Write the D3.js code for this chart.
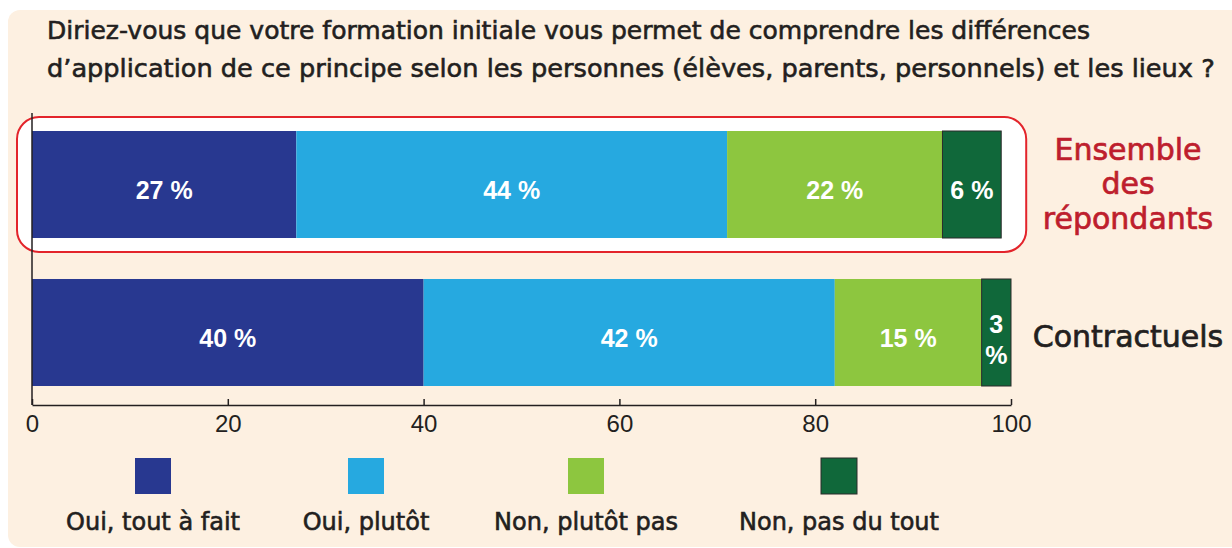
<!DOCTYPE html>
<html>
<head>
<meta charset="utf-8">
<script src="https://cdn.jsdelivr.net/npm/d3@7"></script>
<style>
  body { margin: 0; background: #ffffff; }
  svg { display: block; }
</style>
</head>
<body>
<script>
const WIDTH = 1232;
const HEIGHT = 548;

// data
var groups = ['Ensemble des répondants', 'Contractuels'];
var groupLines = [['Ensemble', 'des', 'répondants'], ['Contractuels']];
var answers = ['Oui, tout à fait', 'Oui, plutôt', 'Non, plutôt pas', 'Non, pas du tout'];
var ensembleValues = [27, 44, 22, 6];
var contractuelsValues = [40, 42, 15, 3];
var tickValues = [0, 20, 40, 60, 80, 100];
var titleLines = [
  'Diriez-vous que votre formation initiale vous permet de comprendre les différences',
  'd\u2019application de ce principe selon les personnes (élèves, parents, personnels) et les lieux ?'
];

var colors = ['#283890', '#26a9e0', '#8dc63f', '#10683a'];
var textColor = '#231f20';

var seriesByGroup = [ensembleValues, contractuelsValues];

var svg = d3.select('body').append('svg')
  .attr('width', WIDTH)
  .attr('height', HEIGHT);

// beige panel
svg.append('rect')
  .attr('x', 8).attr('y', 10)
  .attr('width', WIDTH + 20).attr('height', HEIGHT - 11)
  .attr('rx', 12)
  .attr('fill', '#fdf0e1');

// fit a text element to a target width by changing its font size
var fitWidth = function(sel, target) {
  var size = parseFloat(sel.attr('font-size'));
  var w = sel.node().getComputedTextLength();
  sel.attr('font-size', (size * target / w).toFixed(2));
};

// title
var titleWidths = [1043, 1168];
titleLines.forEach(function(t, i) {
  var txt = svg.append('text')
    .attr('x', 47)
    .attr('y', 39 + i * 38)
    .attr('font-family', 'DejaVu Sans')
    .attr('font-size', 21)
    .attr('fill', textColor)
    .attr('stroke', textColor)
    .attr('stroke-width', 0.6)
    .text(t);
  fitWidth(txt, titleWidths[i]);
});

var x = d3.scaleLinear().domain([0, 100]).range([32, 1011]);
var y = d3.scaleBand().domain(groups).range([131, 386]).paddingInner(0.277).paddingOuter(0);

// highlight frame around first group
svg.append('rect')
  .attr('x', x(0) - 15)
  .attr('y', y(groups[0]) - 14)
  .attr('width', x(99) - x(0) + 40)
  .attr('height', y.bandwidth() + 28)
  .attr('rx', 22)
  .attr('fill', '#ffffff')
  .attr('stroke', '#e3242b')
  .attr('stroke-width', 2);

// stacked segments
var rows = groups.map(function(g, gi) {
  var acc = 0;
  return seriesByGroup[gi].map(function(v, i) {
    var seg = {group: g, index: i, value: v, x0: acc, x1: acc + v};
    acc += v;
    return seg;
  });
});
var segments = [].concat.apply([], rows);

svg.selectAll('rect.seg')
  .data(segments)
  .enter()
  .append('rect')
  .attr('class', 'seg')
  .attr('x', function(d) { return x(d.x0); })
  .attr('y', function(d) { return y(d.group); })
  .attr('width', function(d) { return x(d.x1) - x(d.x0); })
  .attr('height', y.bandwidth())
  .attr('fill', function(d) { return colors[d.index]; })
  .attr('stroke', function(d) { return d.index === 3 ? '#2b2b2b' : 'none'; })
  .attr('stroke-width', 1);

// value labels
var labels = svg.selectAll('text.val')
  .data(segments)
  .enter()
  .append('text')
  .attr('class', 'val')
  .attr('text-anchor', 'middle')
  .attr('font-family', 'Liberation Sans')
  .attr('font-weight', 'bold')
  .attr('font-size', 25)
  .attr('fill', '#ffffff');

labels.each(function(d) {
  var t = d3.select(this);
  var cx = (x(d.x0) + x(d.x1)) / 2;
  var cy = y(d.group) + y.bandwidth() / 2;
  if (x(d.x1) - x(d.x0) < 45) {
    t.append('tspan').attr('x', cx).attr('y', cy + 0.5).text(d.value);
    t.append('tspan').attr('x', cx).attr('y', cy + 31.5).text('%');
  } else {
    t.attr('x', cx).attr('y', cy + 14.5).text(d.value + ' %');
  }
});

// axis
var axis = d3.axisBottom(x)
  .tickValues(tickValues)
  .tickSizeInner(-6)
  .tickSizeOuter(0)
  .tickPadding(10);

var axisG = svg.append('g')
  .attr('transform', 'translate(0,405)')
  .call(axis);
axisG.select('.domain').attr('stroke', textColor).attr('stroke-width', 1.5);
axisG.selectAll('.tick line').attr('stroke', textColor).attr('stroke-width', 1.5);
axisG.selectAll('.tick text')
  .attr('font-family', 'Liberation Sans')
  .attr('font-size', 24)
  .attr('fill', textColor);

svg.append('line')
  .attr('x1', x(0)).attr('x2', x(0))
  .attr('y1', 113).attr('y2', 405)
  .attr('stroke', textColor)
  .attr('stroke-width', 1.5);

// group labels on the right
var groupColors = ['#be1e2d', textColor];
groups.forEach(function(g, gi) {
  var lines = groupLines[gi];
  var cy = y(g) + y.bandwidth() / 2;
  var base = lines.length > 1 ? cy + 9.5 - (lines.length - 1) / 2 * 34.5 : cy + 14.5;
  lines.forEach(function(line, li) {
    svg.append('text')
      .attr('x', 1128)
      .attr('y', base + li * 34.5)
      .attr('text-anchor', 'middle')
      .attr('font-family', 'DejaVu Sans')
      .attr('font-size', 30)
      .attr('fill', groupColors[gi])
      .attr('stroke', groupColors[gi])
      .attr('stroke-width', 0.7)
      .text(line);
  });
});

// legend
var legendCenters = [153, 366, 586, 839];
var legend = svg.selectAll('g.legend')
  .data(answers)
  .enter()
  .append('g')
  .attr('class', 'legend')
  .attr('transform', function(d, i) { return 'translate(' + legendCenters[i] + ',0)'; });

legend.append('rect')
  .attr('x', -18).attr('y', 458)
  .attr('width', 36).attr('height', 36)
  .attr('fill', function(d, i) { return colors[i]; })
  .attr('stroke', function(d, i) { return i === 3 ? '#2b2b2b' : 'none'; });

legend.append('text')
  .attr('y', 530)
  .attr('text-anchor', 'middle')
  .attr('font-family', 'DejaVu Sans')
  .attr('font-size', 24)
  .attr('fill', textColor)
  .attr('stroke', textColor)
  .attr('stroke-width', 0.6)
  .text(function(d) { return d; });
</script>
</body>
</html>
